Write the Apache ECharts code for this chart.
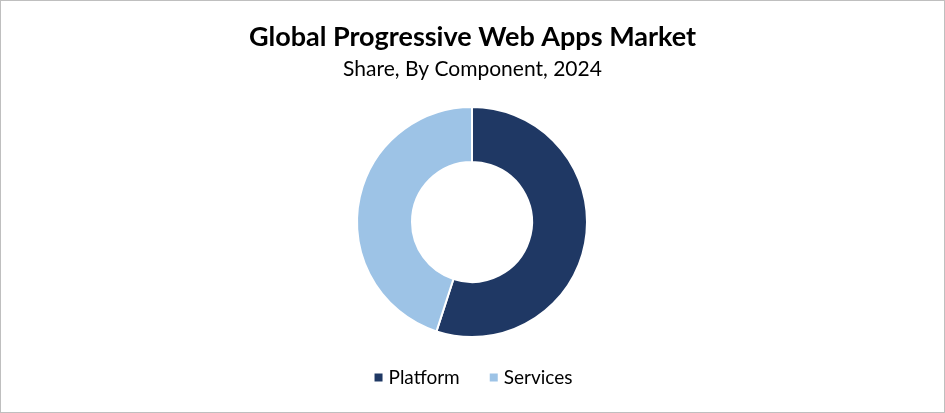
<!DOCTYPE html>
<html><head><meta charset="utf-8">
<script src="https://cdn.jsdelivr.net/npm/echarts@6/dist/echarts.min.js"></script>
<style>html,body{margin:0;padding:0;background:#fff}#c{width:943px;height:411px;border:1px solid #bfbfbf}</style>
</head><body><div id="c"></div>
<script>
const categories = ["Platform", "Services"];
const values = [55, 45];
const colors = ["#1f3864", "#9dc3e6"];
const chart = echarts.init(document.getElementById('c'));
chart.setOption({
  animation: false,
  title: {
    text: "Global Progressive Web Apps Market",
    subtext: "Share, By Component, 2024",
    left: "center", top: 18, itemGap: 8,
    textStyle: {fontFamily: "Lato", fontWeight: "bold", fontSize: 27, color: "#000"},
    subtextStyle: {fontFamily: "Lato", fontSize: 21, color: "#000"}
  },
  legend: {
    bottom: 20, left: "center", icon: "rect", itemWidth: 10, itemHeight: 10, itemGap: 28,
    textStyle: {fontFamily: "Lato", fontSize: 19, color: "#000"},
    data: categories
  },
  color: colors,
  series: [{
    type: "pie", radius: [60, 115], center: [471, 221], startAngle: 90, clockwise: true,
    label: {show: false}, labelLine: {show: false},
    itemStyle: {borderColor: "#fff", borderWidth: 2},
    data: categories.map((n, i) => ({name: n, value: values[i]}))
  }]
});
</script></body></html>
